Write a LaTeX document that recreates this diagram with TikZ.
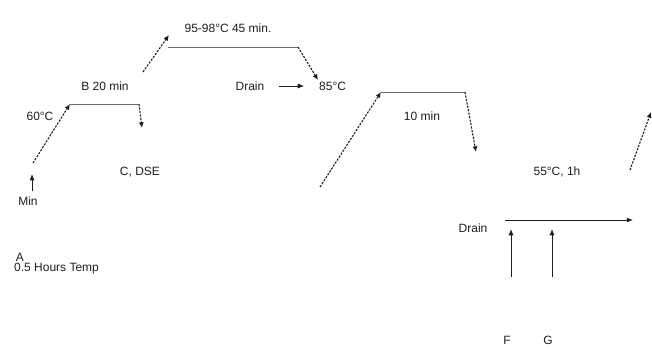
\documentclass[tikz,border=0pt]{standalone}
\usepackage{fontspec}
\setmainfont{Liberation Sans}
\usepackage{tikz}
\usetikzlibrary{arrows.meta}
\definecolor{holdgray}{RGB}{110,110,110}
\definecolor{inkgray}{RGB}{30,30,30}
\tikzset{
  steplabel/.style={font=\fontsize{12}{14}\selectfont,text=inkgray,inner sep=1pt},
  ramparrow/.style={-{Latex[length=2mm,width=1.8mm]},line width=1.1pt,draw=inkgray,dash pattern=on 2.2pt off 1.3pt},
  holdline/.style={draw=holdgray,line width=0.7pt},
  flowarrow/.style={-{Latex[length=2.2mm,width=1.8mm]},line width=0.9pt,draw=inkgray}
}

\begin{document}
\begin{tikzpicture}[x=1pt,y=-1pt]
  \useasboundingbox (0,0) rectangle (652,348);
  % corners of the temperature profile
  \coordinate (start) at (32,191);
  \coordinate (startup) at (32,174);
  \coordinate (r1a) at (33,163);
  \coordinate (r1b) at (70,104);
  \coordinate (h1b) at (139,104);
  \coordinate (d1b) at (142,128);
  \coordinate (r2a) at (143,72);
  \coordinate (r2b) at (169,35);
  \coordinate (h2a) at (168,47);
  \coordinate (h2b) at (298,47);
  \coordinate (d2b) at (318,80);
  \coordinate (r3a) at (320,187);
  \coordinate (r3b) at (381,92);
  \coordinate (h3b) at (465,92);
  \coordinate (d3b) at (476,152);
  \coordinate (r4a) at (630,170);
  \coordinate (r4b) at (651,112);
  \coordinate (draina) at (279,86);
  \coordinate (drainb) at (304,86);
  \coordinate (flowa) at (505,220);
  \coordinate (flowb) at (633,220);
  \coordinate (fin) at (511,277);
  \coordinate (fout) at (511,229);
  \coordinate (gin) at (552,277);
  \coordinate (gout) at (552,229);
  % labels
  \node[steplabel] (mintxt) at (28,201) {Min};
  \node[steplabel] (t60) at (40,116) {60°C};
  \node[steplabel] (b20) at (105,86) {B 20 min};
  \node[steplabel] (t95) at (228,28) {95-98°C 45 min.};
  \node[steplabel] (drain1) at (250,86) {Drain};
  \node[steplabel,anchor=west] (t85) at (318,86) {85°C};
  \node[steplabel] (m10) at (422,116) {10 min};
  \node[steplabel] (cdse) at (140,172) {C, DSE};
  \node[steplabel] (t55) at (557,172) {55°C, 1h};
  \node[steplabel] (drain2) at (473,228) {Drain};
  \node[steplabel] (fl) at (507,340) {F};
  \node[steplabel] (gl) at (548,340) {G};
  \node[steplabel] (al) at (20,257) {A};
  \node[steplabel,anchor=west] (hours) at (13,269) {0.5 Hours Temp};
  % ramps, holds and drops
  \draw[flowarrow] (start) -- (startup);
  \draw[ramparrow] (r1a) -- (r1b);
  \draw[holdline] (r1b) -- (h1b);
  \draw[ramparrow] (h1b) -- (d1b);
  \draw[ramparrow] (r2a) -- (r2b);
  \draw[holdline] (h2a) -- (h2b);
  \draw[ramparrow] (h2b) -- (d2b);
  \draw[flowarrow,line width=0.7pt] (draina) -- (drainb);
  \draw[ramparrow] (r3a) -- (r3b);
  \draw[holdline] (r3b) -- (h3b);
  \draw[ramparrow] (h3b) -- (d3b);
  \draw[ramparrow] (r4a) -- (r4b);
  % drain line and inlets
  \draw[flowarrow] (flowa) -- (flowb);
  \draw[flowarrow] (fin) -- (fout);
  \draw[flowarrow] (gin) -- (gout);
\end{tikzpicture}
\end{document}
